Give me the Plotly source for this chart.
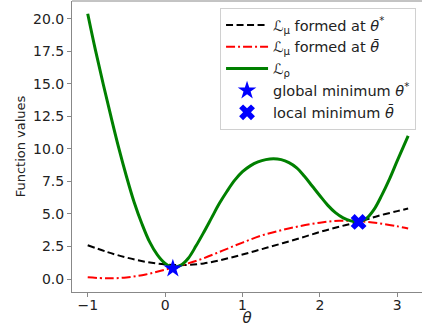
import plotly.graph_objects as go

# --- data ---
theta_grid = [-1.0, -0.75, -0.5, -0.25, 0.0, 0.25, 0.5, 0.75, 1.0, 1.25, 1.5, 1.75,
              2.0, 2.25, 2.5, 2.75, 3.0, 3.14]
l_mu_star = [2.6, 2.08, 1.65, 1.32, 1.12, 1.07, 1.2, 1.5, 1.88, 2.3, 2.72, 3.15,
             3.62, 4.02, 4.4, 4.85, 5.22, 5.42]
l_mu_bar = [0.13, 0.05, 0.12, 0.35, 0.72, 1.12, 1.6, 2.2, 2.8, 3.35, 3.75, 4.08,
            4.33, 4.48, 4.45, 4.3, 4.05, 3.88]

theta_rho = [-1.0, -0.9, -0.8, -0.7, -0.6, -0.5, -0.4, -0.3, -0.2, -0.1, 0.0, 0.1,
             0.2, 0.3, 0.4, 0.5, 0.6, 0.7, 0.8, 0.9, 1.0, 1.1, 1.2, 1.3, 1.4, 1.5,
             1.6, 1.7, 1.8, 1.9, 2.0, 2.1, 2.2, 2.3, 2.4, 2.5, 2.6, 2.7, 2.8, 2.9,
             3.0, 3.14]
l_rho = [20.4, 17.6, 15.0, 12.5, 10.1, 7.9, 5.9, 4.25, 2.85, 1.85, 1.2, 0.9,
         1.05, 1.6, 2.55, 3.6, 4.7, 5.8, 6.75, 7.6, 8.25, 8.7, 9.0, 9.18, 9.25, 9.18,
         8.95, 8.55, 7.9, 7.15, 6.4, 5.68, 5.1, 4.7, 4.47, 4.4, 4.65, 5.35, 6.45, 7.7,
         9.1, 11.0]

global_min = ([0.10], [0.8])
local_min = ([2.5], [4.39])

x_ticks = [-1, 0, 1, 2, 3]
y_ticks = [0.0, 2.5, 5.0, 7.5, 10.0, 12.5, 15.0, 17.5, 20.0]

names = ["ℒ<sub>μ</sub> formed at <i>θ</i><sup>*</sup>",
         "ℒ<sub>μ</sub> formed at <i>θ̄</i>",
         "ℒ<sub>ρ</sub>",
         "global minimum <i>θ</i><sup>*</sup>",
         "local minimum <i>θ̄</i>"]

fig = go.Figure()
fig.add_trace(go.Scatter(x=theta_grid, y=l_mu_star, mode="lines", name=names[0],
                         line=dict(color="black", width=2, dash="7px,3.5px", shape="spline")))
fig.add_trace(go.Scatter(x=theta_grid, y=l_mu_bar, mode="lines", name=names[1],
                         line=dict(color="#ff0000", width=2, dash="9px,3px,2px,3px", shape="spline")))
fig.add_trace(go.Scatter(x=theta_rho, y=l_rho, mode="lines", name=names[2],
                         line=dict(color="#008000", width=3, shape="spline", smoothing=1.0)))
fig.add_trace(go.Scatter(x=global_min[0], y=global_min[1], mode="markers", name=names[3],
                         marker=dict(symbol="star", size=14, color="#0000ff",
                                     line=dict(width=0))))
fig.add_trace(go.Scatter(x=local_min[0], y=local_min[1], mode="markers", name=names[4],
                         marker=dict(symbol="x", size=14, color="#0000ff",
                                     line=dict(width=0))))

axis_common = dict(showgrid=False, zeroline=False, showline=True, linecolor="#888",
                   linewidth=1, ticks="outside", ticklen=4, tickcolor="#888",
                   tickfont=dict(family="DejaVu Sans", size=14, color="#222"))

fig.update_layout(
    width=422, height=327,
    margin=dict(l=72, r=0, t=1, b=35),
    paper_bgcolor="white", plot_bgcolor="white",
    font=dict(family="DejaVu Sans", size=13, color="#222"),
    xaxis=dict(range=[-1.203, 3.319], tickvals=x_ticks, tickformat="d",
               ticklabelstandoff=-4,
               title=dict(text="<i>θ</i>", font=dict(size=15), standoff=3),
               **axis_common),
    yaxis=dict(range=[-1.0, 21.38], tickvals=y_ticks, tickformat=".1f",
               title=dict(text="Function values", font=dict(size=13), standoff=4),
               **axis_common),
    legend=dict(x=0.983, y=0.976, xanchor="right", yanchor="top",
                bgcolor="white", bordercolor="#d0d0d0", borderwidth=1,
                font=dict(family="DejaVu Sans", size=14.5, color="#222"),
                itemwidth=42, tracegroupgap=0),
    showlegend=True,
)
# top spine
fig.add_shape(type="line", xref="paper", yref="paper", x0=0, x1=1, y0=1, y1=1,
              line=dict(color="#888", width=1))

fig.write_html("out.html", config={"displayModeBar": False},
               post_script="document.body.style.margin='0';")
